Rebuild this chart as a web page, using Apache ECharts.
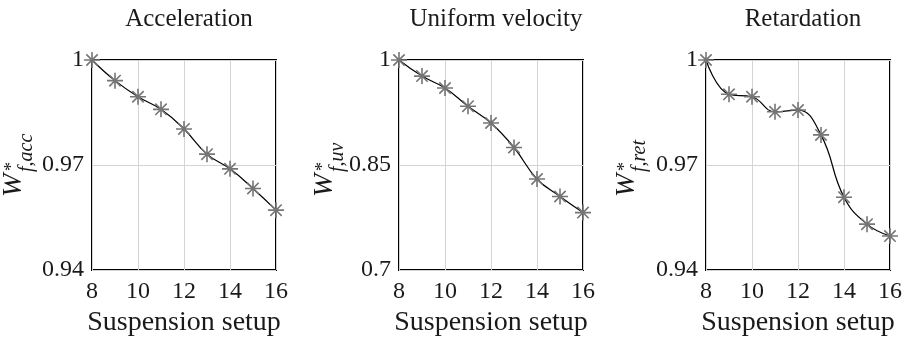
<!DOCTYPE html>
<html>
<head>
<meta charset="utf-8">
<script src="https://cdn.jsdelivr.net/npm/echarts@6/dist/echarts.min.js"></script>
<style>
  html, body { margin: 0; padding: 0; background: #fff; }
  #chart { width: 905px; height: 338px; }
</style>
</head>
<body>
<div id="chart"></div>
<script>
var setups = [8, 9, 10, 11, 12, 13, 14, 15, 16];

var titles = ['Acceleration', 'Uniform velocity', 'Retardation'];
var subs = ['f,acc', 'f,uv', 'f,ret'];

var accValues = [1.0, 0.9941, 0.9895, 0.9859, 0.9803, 0.9731, 0.9689, 0.9633, 0.9571];
var uvValues = [1.0, 0.977, 0.960, 0.934, 0.910, 0.875, 0.830, 0.805, 0.782];
var retValues = [1.0, 0.9902, 0.9895, 0.9852, 0.9857, 0.9786, 0.9608, 0.9531, 0.9497];

var accTicks = [0.94, 0.97, 1];
var uvTicks = [0.7, 0.85, 1];
var retTicks = [0.94, 0.97, 1];

var allValues = [accValues, uvValues, retValues];
var allTicks = [accTicks, uvTicks, retTicks];

var font = 'Liberation Serif';
var gridLeft = [92, 399, 706];
var gridW = 184, gridTop = 60, gridH = 210;
var labelX = [28, 339, 641];   // y-label box bottom (rotated)

// asterisk marker, like matlab '*'
var star = 'path://M0 9L20 9L20 11L0 11Z M9 0L11 0L11 20L9 20Z ' +
  'M2.2 3.6L3.6 2.2L17.8 16.4L16.4 17.8Z M16.4 2.2L17.8 3.6L3.6 17.8L2.2 16.4Z';

var chart = echarts.init(document.getElementById('chart'));

var grids = [], xAxes = [], yAxes = [], series = [], tl = [], graphics = [];

for (var i = 0; i < 3; i++) {
    var ticks = allTicks[i];
    grids.push({
        left: gridLeft[i], top: gridTop, width: gridW, height: gridH,
        outerBoundsMode: 'none',
        show: true, borderColor: '#000', borderWidth: 2, backgroundColor: 'transparent'
    });
    xAxes.push({
        type: 'value', gridIndex: i, min: 8, max: 16, interval: 2,
        name: 'Suspension setup', nameLocation: 'middle', nameGap: 34,
        nameTextStyle: { fontFamily: font, fontSize: 28, color: '#1a1a1a' },
        axisLine: { show: false },
        axisTick: { show: false },
        axisLabel: { fontFamily: font, fontSize: 24, color: '#1a1a1a', margin: 10 },
        splitLine: { show: true, lineStyle: { color: '#d4d4d4', width: 1 } }
    });
    yAxes.push({
        type: 'value', gridIndex: i, min: ticks[0], max: ticks[2],
        axisLine: { show: false },
        axisTick: { show: false, customValues: ticks },
        axisLabel: {
            fontFamily: font, fontSize: 24, color: '#1a1a1a', margin: 8,
            customValues: ticks,
            formatter: function (v) { return String(+v.toFixed(2)); }
        },
        splitLine: { show: true, lineStyle: { color: '#d4d4d4', width: 1 } }
    });
    series.push({
        type: 'line', xAxisIndex: i, yAxisIndex: i,
        data: setups.map(function (s, k) { return [s, allValues[i][k]]; }),
        smooth: 0.45,
        clip: false,
        lineStyle: { color: '#000', width: 1.2 },
        symbol: star, symbolSize: 16,
        itemStyle: { color: '#757575' },
        z: 3
    });
    tl.push({
        text: titles[i], left: gridLeft[i] + gridW / 2, top: 2, textAlign: 'center',
        textStyle: { fontFamily: font, fontSize: 25, fontWeight: 'normal', color: '#1a1a1a' }
    });
    graphics.push({
        type: 'group', x: labelX[i], y: 197, rotation: Math.PI / 2,
        children: [
            { type: 'text', x: 0, y: 0,
              style: { text: 'W', font: 'italic 28px "Liberation Serif"', fill: '#1a1a1a', verticalAlign: 'bottom' } },
            { type: 'text', x: 26, y: -7,
              style: { text: '*', font: '18px "Liberation Serif"', fill: '#1a1a1a', verticalAlign: 'bottom' } },
            { type: 'text', x: 25, y: 9,
              style: { text: subs[i], font: 'italic 20px "Liberation Serif"', fill: '#1a1a1a', verticalAlign: 'bottom' } }
        ]
    });
}

chart.setOption({
    animation: false,
    backgroundColor: '#fff',
    title: tl,
    grid: grids,
    xAxis: xAxes,
    yAxis: yAxes,
    series: series,
    graphic: graphics
});
</script>
</body>
</html>
